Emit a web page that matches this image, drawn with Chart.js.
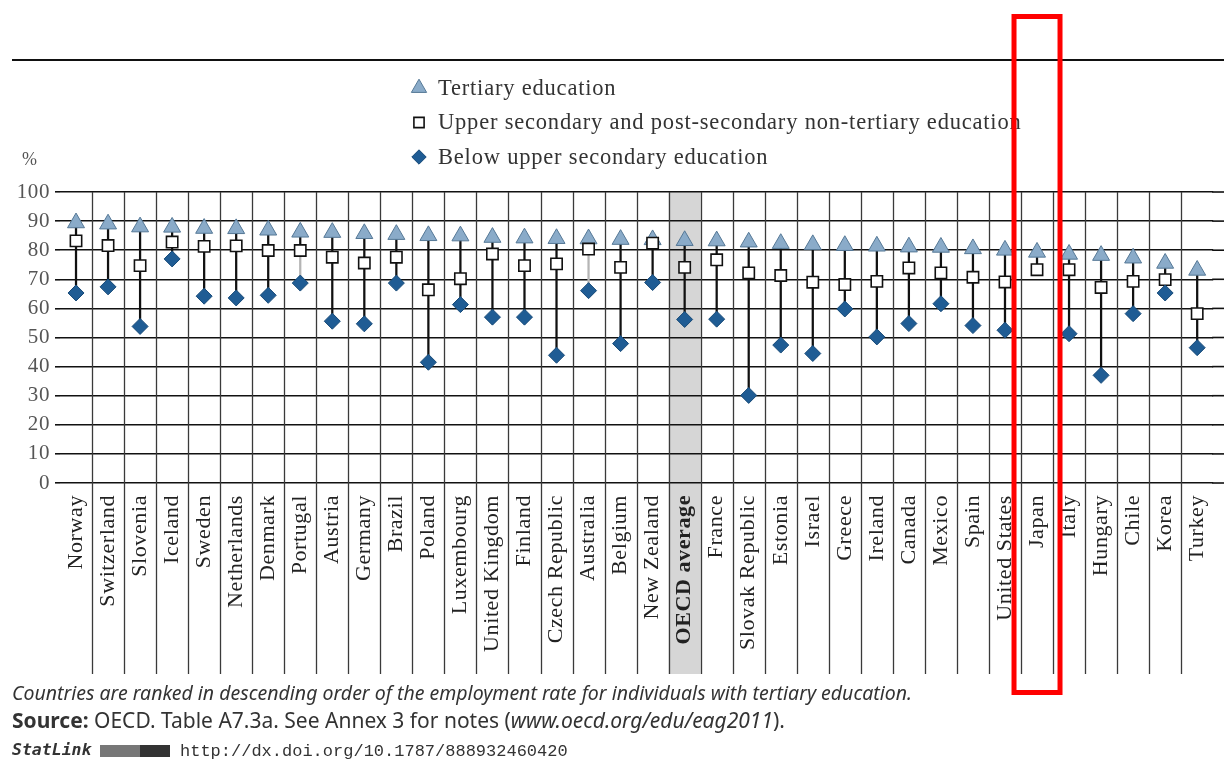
<!DOCTYPE html>
<html>
<head>
<meta charset="utf-8">
<script src="https://cdn.jsdelivr.net/npm/chart.js@4/dist/chart.umd.min.js"></script>
<style>
	body { margin: 0; background: #fff; }
</style>
</head>
<body>
<canvas id="chart" width="1224" height="763"></canvas>
<script>
const countries = ["Norway", "Switzerland", "Slovenia", "Iceland", "Sweden", "Netherlands", "Denmark", "Portugal", "Austria", "Germany", "Brazil", "Poland", "Luxembourg", "United Kingdom", "Finland", "Czech Republic", "Australia", "Belgium", "New Zealand", "OECD average", "France", "Slovak Republic", "Estonia", "Israel", "Greece", "Ireland", "Canada", "Mexico", "Spain", "United States", "Japan", "Italy", "Hungary", "Chile", "Korea", "Turkey"];

// employment rates, %
const tertiary = [89.4, 89.0, 88.0, 87.9, 87.5, 87.4, 86.9, 86.2, 86.1, 85.7, 85.4, 85.0, 84.9, 84.4, 84.2, 84.0, 83.9, 83.7, 83.6, 83.3, 83.2, 82.8, 82.3, 81.9, 81.6, 81.4, 81.1, 81.0, 80.5, 80.0, 79.3, 78.6, 78.2, 77.3, 75.5, 73.1];
const upperSecondary = [83.2, 81.6, 74.7, 82.8, 81.3, 81.5, 79.9, 79.9, 77.6, 75.6, 77.6, 66.4, 70.2, 78.7, 74.7, 75.3, 80.4, 74.1, 82.4, 74.1, 76.7, 72.2, 71.3, 69.0, 68.2, 69.3, 73.9, 72.2, 70.7, 69.1, 73.3, 73.3, 67.2, 69.3, 69.9, 58.2];
const belowUpper = [65.3, 67.4, 53.8, 77.0, 64.2, 63.6, 64.5, 68.7, 55.6, 54.7, 68.7, 41.5, 61.3, 57.0, 57.0, 43.9, 66.1, 47.9, 68.9, 56.2, 56.3, 30.1, 47.4, 44.5, 59.8, 50.2, 54.8, 61.6, 54.1, 52.5, null, 51.3, 37.0, 58.2, 65.3, 46.5];

const legendLabels = ["Tertiary education", "Upper secondary and post-secondary non-tertiary education", "Below upper secondary education"];
const highlighted = "OECD average";
const boxed = "Japan";
const greyLinks = ["Portugal", "Australia"];

const note = "Countries are ranked in descending order of the employment rate for individuals with tertiary education.";
const sourceParts = [["bold", "Source:"], ["normal", " OECD. Table A7.3a. See Annex 3 for notes ("], ["italic", "www.oecd.org/edu/eag2011"], ["normal", ")."]];
const statLink = "http://dx.doi.org/10.1787/888932460420";

const serif = "'Liberation Serif', serif";
const sans = "'Noto Sans', sans-serif";
const labelDepth = 191;

const upperLinks = countries.map((c, i) => [upperSecondary[i], tertiary[i]]);
const lowerLinks = countries.map((c, i) => belowUpper[i] === null ? null : [belowUpper[i], upperSecondary[i]]);

const extras = {
	id: "extras",
	beforeDraw(chart) {
		const {ctx, chartArea, scales} = chart;
		const x = scales.x;
		const w = x.getPixelForValue(1) - x.getPixelForValue(0);
		const cx = x.getPixelForValue(countries.indexOf(highlighted));
		ctx.fillStyle = "#d6d6d6";
		ctx.fillRect(cx - w / 2, chartArea.top, w, chartArea.bottom + labelDepth - chartArea.top);
		// the typeset labels are loosely spaced
		ctx.letterSpacing = "0.6px";
	},
	beforeDatasetsDraw(chart) {
		const {ctx, chartArea, scales} = chart;
		const x = scales.x;
		const y = scales.y;
		ctx.save();
		ctx.strokeStyle = "#3a3a3a";
		ctx.lineWidth = 1.3;
		for (let i = 1; i < countries.length; i++) {
			const px = Math.round((x.getPixelForValue(i - 1) + x.getPixelForValue(i)) / 2) + 0.5;
			ctx.beginPath();
			ctx.moveTo(px, chartArea.top);
			ctx.lineTo(px, chartArea.bottom + labelDepth);
			ctx.stroke();
		}
		// horizontal rules run on to the page edge
		ctx.strokeStyle = "#111";
		ctx.lineWidth = 1.6;
		y.ticks.forEach(t => {
			const py = y.getPixelForValue(t.value);
			ctx.beginPath();
			ctx.moveTo(chartArea.right - 1, py);
			ctx.lineTo(chart.width, py);
			ctx.stroke();
		});
		ctx.restore();
	},
	afterDraw(chart) {
		const ctx = chart.ctx;
		const x = chart.scales.x;
		ctx.save();

		ctx.strokeStyle = "#111";
		ctx.lineWidth = 2;
		ctx.beginPath();
		ctx.moveTo(12, 60);
		ctx.lineTo(chart.width, 60);
		ctx.stroke();

		// legend
		const sets = chart.data.datasets;
		const markers = [sets[2], sets[1], sets[0]];
		ctx.textBaseline = "middle";
		ctx.textAlign = "left";
		legendLabels.forEach((t, k) => {
			const ds = markers[k];
			const my = 88 + k * 34.5;
			ctx.fillStyle = ds.pointBackgroundColor;
			ctx.strokeStyle = ds.pointBorderColor;
			ctx.lineWidth = ds.pointBorderWidth;
			Chart.helpers.drawPoint(ctx, {pointStyle: ds.pointStyle, radius: ds.pointRadius * 0.9, borderWidth: ds.pointBorderWidth, rotation: 0}, 419, my);
			ctx.fillStyle = "#333";
			ctx.font = "22.5px " + serif;
			ctx.letterSpacing = "0.8px";
			ctx.fillText(t, 438, my + 1);
		});
		ctx.letterSpacing = "0px";

		ctx.fillStyle = "#555";
		ctx.font = "18px " + serif;
		ctx.fillText("%", 22, 160);

		// notes under the chart
		ctx.fillStyle = "#333";
		ctx.font = "italic 19.5px " + sans;
		ctx.fillText(note, 12, 694);
		let sx = 12;
		sourceParts.forEach(p => {
			ctx.font = (p[0] === "normal" ? "" : p[0] + " ") + "21px " + sans;
			ctx.fillText(p[1], sx, 722);
			sx += ctx.measureText(p[1]).width;
		});
		ctx.font = "bold italic 16.5px 'DejaVu Sans Mono', monospace";
		ctx.fillText("StatLink", 12, 751);
		ctx.fillStyle = "#777";
		ctx.fillRect(100, 745, 70, 12);
		ctx.fillStyle = "#333";
		ctx.fillRect(140, 745, 30, 12);
		ctx.font = "17px 'Liberation Mono', monospace";
		ctx.fillText(statLink, 180, 751);

		// red frame round Japan
		const jx = x.getPixelForValue(countries.indexOf(boxed));
		ctx.strokeStyle = "#ff0000";
		ctx.lineWidth = 5;
		ctx.strokeRect(jx - 23, 16.5, 46, 676);
		ctx.restore();
	}
};

new Chart(document.getElementById("chart"), {
	type: "bar",
	data: {
		labels: countries,
		datasets: [
			{
				type: "line",
				label: legendLabels[2],
				data: belowUpper,
				showLine: false,
				pointStyle: "rectRot",
				pointRadius: 8,
				pointBackgroundColor: "#1f5c94",
				pointBorderColor: "#174a78",
				pointBorderWidth: 1,
				order: 0
			},
			{
				type: "line",
				label: legendLabels[1],
				data: upperSecondary,
				showLine: false,
				pointStyle: "rect",
				pointRadius: 8,
				pointBackgroundColor: "#ffffff",
				pointBorderColor: "#111",
				pointBorderWidth: 1.6,
				order: 0
			},
			{
				type: "line",
				label: legendLabels[0],
				data: tertiary,
				showLine: false,
				pointStyle: "triangle",
				pointRadius: 9.8,
				pointBackgroundColor: "#8aabc9",
				pointBorderColor: "#557896",
				pointBorderWidth: 1,
				order: 0
			},
			{
				label: "link upper",
				data: upperLinks,
				backgroundColor: "#111",
				barThickness: 1.6,
				grouped: false,
				order: 1
			},
			{
				label: "link lower",
				data: lowerLinks,
				backgroundColor: c => greyLinks.includes(countries[c.dataIndex]) ? "#b5b5b5" : "#111",
				barThickness: 1.6,
				grouped: false,
				order: 1
			}
		]
	},
	options: {
		responsive: false,
		animation: false,
		layout: {
			padding: {top: 192, right: 9, bottom: 89, left: 0}
		},
		plugins: {
			legend: {display: false},
			tooltip: {enabled: false}
		},
		scales: {
			x: {
				offset: true,
				grid: {display: false, drawTicks: false},
				border: {display: false},
				ticks: {
					autoSkip: false,
					minRotation: 90,
					maxRotation: 90,
					padding: 12,
					color: "#222",
					font: c => ({family: serif, size: 22, weight: countries[c.index] === highlighted ? "bold" : "normal"})
				},
				afterFit: s => {
					s.height = labelDepth;
					s.paddingLeft = 0;
					s.paddingRight = 0;
				}
			},
			y: {
				min: 0,
				max: 100,
				grid: {color: "#111", lineWidth: 1.6, tickLength: 5},
				border: {display: false},
				ticks: {
					stepSize: 10,
					padding: 5,
					color: "#555",
					font: {family: serif, size: 21}
				},
				afterFit: s => { s.width = 60; }
			}
		}
	},
	plugins: [extras]
});
</script>
</body>
</html>
